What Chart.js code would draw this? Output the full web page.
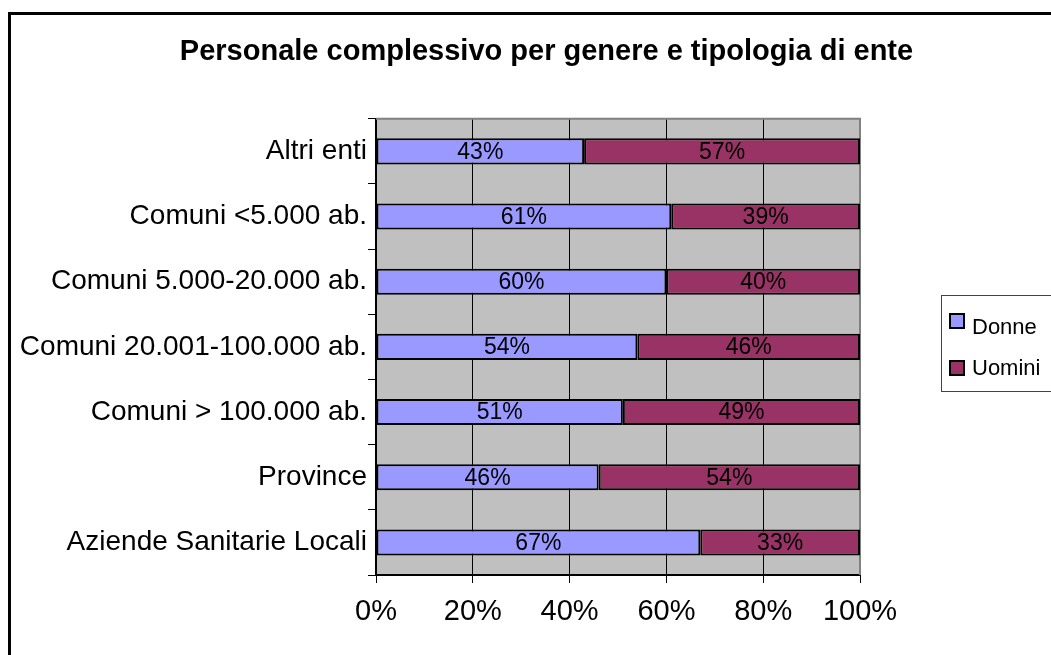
<!DOCTYPE html>
<html>
<head>
<meta charset="utf-8">
<script src="https://cdn.jsdelivr.net/npm/chart.js@4/dist/chart.umd.min.js"></script>
<style>
  html, body { margin: 0; padding: 0; background: #fff; overflow: hidden; }
  #frame {
    position: absolute; left: 8px; top: 12px;
    width: 1071px; height: 680px;
    border: 3px solid #000;
  }
  #chart { display: block; }
</style>
</head>
<body>
<div id="frame"><canvas id="chart" width="1071" height="640"></canvas></div>
<script>
// dati
const categories = [
  "Altri enti",
  "Comuni <5.000 ab.",
  "Comuni 5.000-20.000 ab.",
  "Comuni 20.001-100.000 ab.",
  "Comuni > 100.000 ab.",
  "Province",
  "Aziende Sanitarie Locali"
];
const donne = [43, 61, 60, 54, 51, 46, 67];
const uomini = [57, 39, 40, 46, 49, 54, 33];
const xTicks = [0, 20, 40, 60, 80, 100];

const FONT = '"Liberation Sans", Arial, sans-serif';

// sfondo grigio dell'area del grafico + bordo
const plotArea = {
  id: "plotArea",
  beforeDraw(chart) {
    const { ctx, chartArea: a } = chart;
    ctx.save();
    ctx.fillStyle = "#C0C0C0";
    ctx.fillRect(a.left, a.top, a.right - a.left, a.bottom - a.top);
    ctx.restore();
  },
  beforeDatasetsDraw(chart) {
    const { ctx, chartArea: a } = chart;
    ctx.save();
    ctx.strokeStyle = "#808080";
    ctx.lineWidth = 2;
    ctx.beginPath();
    ctx.moveTo(a.left, a.top);
    ctx.lineTo(a.right, a.top);
    ctx.lineTo(a.right, a.bottom);
    ctx.stroke();
    ctx.restore();
  }
};

// etichette percentuali dentro le barre
const barLabels = {
  id: "barLabels",
  afterDatasetsDraw(chart) {
    const ctx = chart.ctx;
    ctx.save();
    ctx.font = "23px " + FONT;
    ctx.fillStyle = "#000";
    ctx.textAlign = "center";
    ctx.textBaseline = "middle";
    chart.data.datasets.forEach((ds, i) => {
      chart.getDatasetMeta(i).data.forEach((bar, j) => {
        const p = bar.getCenterPoint();
        ctx.fillText(ds.data[j] + "%", p.x, p.y + 1);
      });
    });
    ctx.restore();
  }
};

// legenda con riquadro
const boxLegend = {
  id: "boxLegend",
  afterDraw(chart) {
    const ctx = chart.ctx;
    ctx.save();
    ctx.strokeStyle = "#444";
    ctx.lineWidth = 1;
    ctx.strokeRect(930.5, 280.5, 200, 96);
    ctx.font = "22px " + FONT;
    ctx.textBaseline = "middle";
    ctx.textAlign = "left";
    const rows = [298, 345];
    chart.data.datasets.forEach((ds, i) => {
      const y = rows[i];
      ctx.fillStyle = ds.backgroundColor;
      ctx.fillRect(938, y, 16, 16);
      ctx.strokeStyle = "#000";
      ctx.lineWidth = 2;
      ctx.strokeRect(939, y + 1, 14, 14);
      ctx.fillStyle = "#000";
      ctx.fillText(ds.label, 961, y + (i === 0 ? 15 : 9));
    });
    ctx.restore();
  }
};

new Chart(document.getElementById("chart"), {
  type: "bar",
  data: {
    labels: categories,
    datasets: [
      {
        label: "Donne",
        data: donne,
        backgroundColor: "#9999FF",
        borderColor: "#000",
        borderWidth: 2,
        borderSkipped: false,
        barPercentage: 0.4,
        categoryPercentage: 1
      },
      {
        label: "Uomini",
        data: uomini,
        backgroundColor: "#993366",
        borderColor: "#000",
        borderWidth: 2,
        borderSkipped: false,
        barPercentage: 0.4,
        categoryPercentage: 1
      }
    ]
  },
  options: {
    indexAxis: "y",
    responsive: false,
    animation: false,
    devicePixelRatio: 1,
    plugins: {
      legend: { display: false },
      tooltip: { enabled: false },
      title: {
        display: true,
        text: "Personale complessivo per genere e tipologia di ente",
        color: "#000",
        font: { family: FONT, size: 29, weight: "bold", lineHeight: 1.2 },
        padding: { top: 20, bottom: 49 }
      }
    },
    scales: {
      x: {
        stacked: true,
        min: 0,
        max: 100,
        afterBuildTicks(scale) {
          scale.ticks = xTicks.map(v => ({ value: v }));
        },
        afterFit(scale) { scale.height = 80; },
        ticks: {
          color: "#000",
          padding: 12,
          font: { family: FONT, size: 29 },
          callback: v => v + "%"
        },
        grid: {
          color: "#000",
          lineWidth: 1,
          tickLength: 8
        },
        border: { color: "#000", width: 2 }
      },
      y: {
        stacked: true,
        afterFit(scale) { scale.width = 365; },
        ticks: {
          color: "#000",
          padding: 1,
          font: { family: FONT, size: 28 }
        },
        grid: {
          drawOnChartArea: false,
          color: "#000",
          tickLength: 8
        },
        border: { color: "#000", width: 2 }
      },
      // spazio vuoto a destra per la legenda
      yRight: {
        type: "linear",
        axis: "y",
        position: "right",
        afterFit(scale) { scale.width = 222; },
        ticks: { display: false },
        grid: { display: false },
        border: { display: false }
      }
    }
  },
  plugins: [plotArea, barLabels, boxLegend]
});
</script>
</body>
</html>
